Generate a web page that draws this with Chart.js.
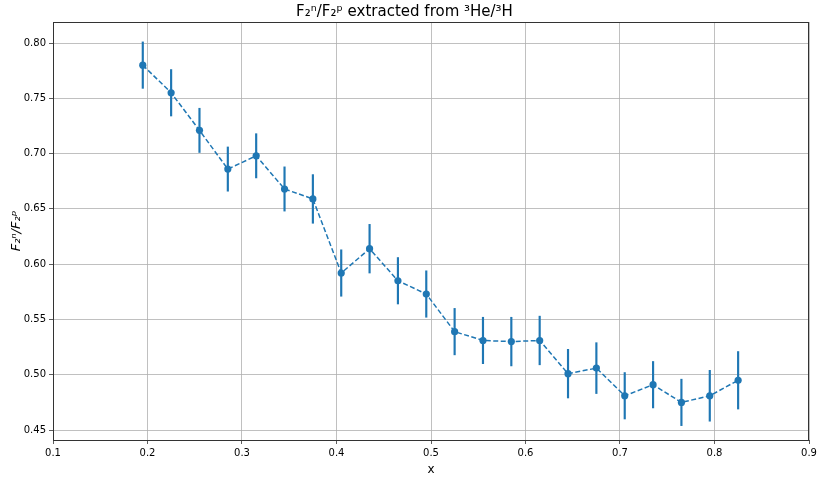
<!DOCTYPE html>
<html>
<head>
<meta charset="utf-8">
<script src="https://cdn.jsdelivr.net/npm/chart.js@4.4.0/dist/chart.umd.min.js"></script>
<style>
  html, body { margin: 0; padding: 0; background: #fff; }
  #wrap { width: 825px; height: 479px; }
</style>
</head>
<body>
<div id="wrap"><canvas id="ratio" width="825" height="479"></canvas></div>
<script>
// x bins and F2n/F2p values
const xs = [0.195, 0.225, 0.255, 0.285, 0.315, 0.345, 0.375, 0.405, 0.435, 0.465, 0.495,
            0.525, 0.555, 0.585, 0.615, 0.645, 0.675, 0.705, 0.735, 0.765, 0.795, 0.825];
const ratio = [0.780, 0.755, 0.721, 0.686, 0.698, 0.668, 0.659, 0.592, 0.614, 0.585, 0.573,
               0.539, 0.531, 0.530, 0.531, 0.501, 0.506, 0.481, 0.491, 0.475, 0.481, 0.495];
const errs = [0.021, 0.021, 0.020, 0.020, 0.020, 0.020, 0.022, 0.021, 0.022, 0.021, 0.021,
              0.021, 0.021, 0.022, 0.022, 0.022, 0.023, 0.021, 0.021, 0.021, 0.023, 0.026];
const xTicks = [0.1, 0.2, 0.3, 0.4, 0.5, 0.6, 0.7, 0.8, 0.9];
const yTicks = [0.45, 0.50, 0.55, 0.60, 0.65, 0.70, 0.75, 0.80];

const blue = "#1f77b4";
const font = "'DejaVu Sans', sans-serif";

// top + right spines like matplotlib
const frame = {
  id: "frame",
  afterDraw(chart) {
    const a = chart.chartArea, c = chart.ctx;
    c.save();
    c.strokeStyle = "#333";
    c.lineWidth = 1;
    c.strokeRect(a.left + 0.5, a.top + 0.5, a.right - a.left - 1, a.bottom - a.top);
    c.restore();
  }
};

new Chart(document.getElementById("ratio"), {
  data: {
    datasets: [
      {
        type: "line",
        data: xs.map((x, i) => ({ x: x, y: ratio[i] })),
        borderColor: blue,
        backgroundColor: blue,
        borderWidth: 1.5,
        borderDash: [5, 2.5],
        pointRadius: 3.6,
        pointBorderWidth: 0,
        tension: 0,
        order: 1
      },
      {
        // error bars as floating bars
        type: "bar",
        data: xs.map((x, i) => ({ x: x, y: [ratio[i] - errs[i], ratio[i] + errs[i]] })),
        backgroundColor: blue,
        borderWidth: 0,
        barThickness: 1.5,
        order: 2
      }
    ]
  },
  options: {
    responsive: false,
    animation: false,
    layout: { padding: { left: 0, right: 16, top: 0, bottom: 0 } },
    plugins: {
      legend: { display: false },
      tooltip: { enabled: false },
      title: {
        display: true,
        text: "F\u2082\u207F/F\u2082\u1D56 extracted from \u00B3He/\u00B3H",
        color: "#000",
        font: { family: font, size: 15, weight: "normal" },
        padding: { top: 3, bottom: 1 }
      }
    },
    scales: {
      x: {
        type: "linear",
        min: 0.1,
        max: 0.9,
        offset: false,
        afterBuildTicks: (s) => { s.ticks = xTicks.map((v) => ({ value: v })); },
        afterFit: (s) => { s.height = 39; },
        ticks: {
          color: "#000",
          font: { family: font, size: 10 },
          padding: 3,
          maxRotation: 0,
          callback: (v) => v.toFixed(1)
        },
        grid: { offset: false, color: "#b0b0b0", lineWidth: 0.8, tickColor: "#333", tickLength: 4 },
        border: { color: "#333" },
        title: {
          display: true,
          text: "x",
          color: "#000",
          font: { family: font, size: 12 },
          padding: { top: 0, bottom: 2 }
        }
      },
      y: {
        type: "linear",
        min: 0.441,
        max: 0.819,
        afterBuildTicks: (s) => { s.ticks = yTicks.map((v) => ({ value: v })); },
        afterFit: (s) => { s.width = 53; },
        ticks: {
          color: "#000",
          font: { family: font, size: 10 },
          padding: 3,
          callback: (v) => v.toFixed(2)
        },
        grid: { color: "#b0b0b0", lineWidth: 0.8, tickColor: "#333", tickLength: 4 },
        border: { color: "#333" },
        title: {
          display: true,
          text: "F\u2082\u207F/F\u2082\u1D56",
          color: "#000",
          font: { family: font, size: 13, style: "italic" },
          padding: { top: 9, bottom: 0 }
        }
      }
    }
  },
  plugins: [frame]
});
</script>
</body>
</html>
